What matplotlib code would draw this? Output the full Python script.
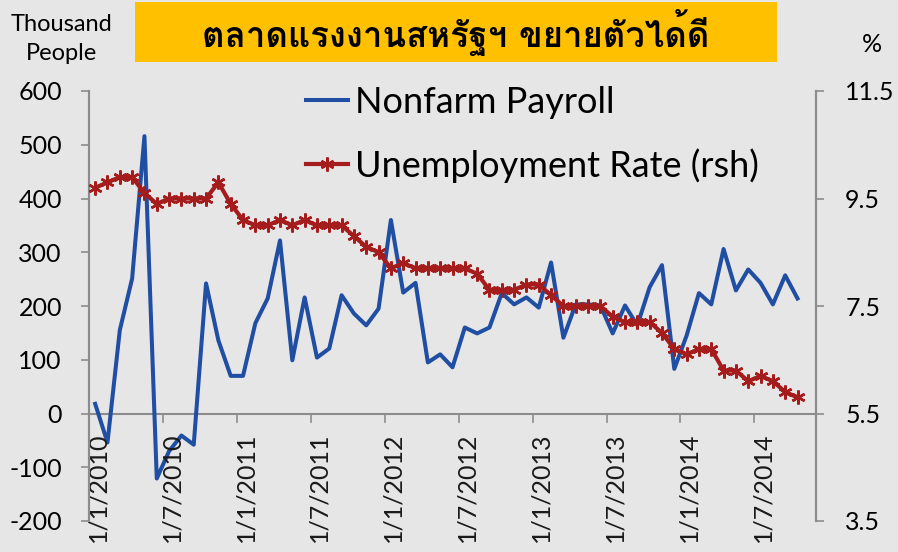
import matplotlib
matplotlib.use("Agg")
import matplotlib.pyplot as plt
from matplotlib import font_manager
from matplotlib.ft2font import FT2Font
from matplotlib.lines import Line2D

# Nonfarm payroll change (thousand people), Jan 2010 - Oct 2014
payroll = [
    18, -54, 155, 251, 516, -121, -70, -41, -58, 242, 136, 70,
    70, 168, 214, 322, 99, 216, 104, 121, 220, 186, 164, 195,
    360, 225, 243, 95, 110, 86, 160, 149, 160, 224, 203, 216,
    197, 281, 141, 203, 203, 201, 149, 201, 164, 235, 276, 83,
    145, 224, 203, 306, 229, 268, 243, 203, 257, 214,
]

# Unemployment rate (%), right axis
unemployment = [
    9.7, 9.8, 9.9, 9.9, 9.6, 9.4, 9.5, 9.5, 9.5, 9.5, 9.8, 9.4,
    9.1, 9.0, 9.0, 9.1, 9.0, 9.1, 9.0, 9.0, 9.0, 8.8, 8.6, 8.5,
    8.2, 8.3, 8.2, 8.2, 8.2, 8.2, 8.2, 8.1, 7.8, 7.8, 7.8, 7.9,
    7.9, 7.7, 7.5, 7.5, 7.5, 7.5, 7.3, 7.2, 7.2, 7.2, 7.0, 6.7,
    6.6, 6.7, 6.7, 6.3, 6.3, 6.1, 6.2, 6.1, 5.9, 5.8,
]

date_labels = [
    "1/1/2010", "1/7/2010", "1/1/2011", "1/7/2011", "1/1/2012",
    "1/7/2012", "1/1/2013", "1/7/2013", "1/1/2014", "1/7/2014",
]

left_ticks = [-200, -100, 0, 100, 200, 300, 400, 500, 600]
right_ticks = [3.5, 5.5, 7.5, 9.5, 11.5]

title_text = "ตลาดแรงงานสหรัฐฯ ขยายตัวได้ดี"

BG = "#e6e6e6"
BLUE = "#1f4ea3"
RED = "#a51c1c"
GREY = "#8c8c8c"


def find_thai_font():
    for entry in font_manager.fontManager.ttflist:
        try:
            font = FT2Font(entry.fname)
            if all(font.get_char_index(ord(ch)) for ch in "ตลาดแรงงาน"):
                return entry.name
        except Exception:
            continue
    return None


thai_font = find_thai_font()
plt.rcParams["font.family"] = ["Lato", "DejaVu Sans"]
plt.rcParams["axes.unicode_minus"] = False

fig = plt.figure(figsize=(8.98, 5.52), dpi=100, facecolor=BG)
ax = fig.add_axes([89 / 898, 1 - 521 / 552, 727 / 898, 430 / 552])
ax.set_facecolor(BG)
ax2 = ax.twinx()

months = list(range(len(payroll)))

ax.plot(months, payroll, color=BLUE, linewidth=2.9, zorder=3)
ax2.plot(
    months,
    unemployment,
    color=RED,
    linewidth=3,
    marker=(6, 2, 0),
    markersize=10,
    markeredgewidth=1.8,
    zorder=3,
)

ax.set_xlim(-0.5, 58.5)
ax.set_ylim(-200, 600)
ax2.set_ylim(3.5, 11.5)

ax.set_yticks(left_ticks)
ax2.set_yticks(right_ticks)
ax2.set_yticklabels([f"{t:.1f}" for t in right_ticks])

for a in (ax, ax2):
    a.spines["top"].set_visible(False)
    a.spines["bottom"].set_visible(False)
    a.spines["left"].set_color(GREY)
    a.spines["right"].set_color(GREY)
    a.spines["left"].set_linewidth(1.5)
    a.spines["right"].set_linewidth(1.5)

ax.tick_params(axis="y", length=6, width=1.2, color=GREY, pad=13.5,
               labelsize=18)
ax2.tick_params(axis="y", length=6, width=1.2, color=GREY, pad=15,
                labelsize=18)

# category axis sits on the zero line
ax.axhline(0, color=GREY, linewidth=1.5, zorder=2)
ax.set_xticks([])
for i in range(len(date_labels)):
    pos = i * 6
    ax.plot([pos - 0.5, pos - 0.5], [0, -15], color=GREY, linewidth=1.2,
            clip_on=False, zorder=2)
    ax.text(pos + 0.2, -36, date_labels[i], rotation=90, ha="center",
            va="top", fontsize=18, color="#1a1a1a")

# title box
fig.patches.append(plt.Rectangle(
    (135 / 898, 1 - 62 / 552), 642 / 898, 60 / 552,
    transform=fig.transFigure, facecolor="#ffc000", edgecolor="none"))
title_family = [thai_font, "DejaVu Sans"] if thai_font else ["DejaVu Sans"]
fig.text(456 / 898, 1 - 33 / 552, title_text, ha="center", va="center",
         fontsize=25, fontweight="bold", family=title_family)

fig.text(62 / 898, 1 - 39 / 552, "Thousand\nPeople", ha="center",
         va="center", fontsize=17, linespacing=1.5)
fig.text(872 / 898, 1 - 45 / 552, "%", ha="center", va="center",
         fontsize=18)

handles = [
    Line2D([], [], color=BLUE, linewidth=2.9),
    Line2D([], [], color=RED, linewidth=3, marker=(6, 2, 0),
           markersize=10, markeredgewidth=1.8),
]
ax2.legend(
    handles,
    ["Nonfarm Payroll", "Unemployment Rate (rsh)"],
    loc="upper left",
    bbox_to_anchor=(306 / 898, 1 - 86 / 552),
    bbox_transform=fig.transFigure,
    frameon=False,
    fontsize=26,
    handlelength=1.15,
    handletextpad=0.2,
    labelspacing=0.8,
    borderpad=0,
    borderaxespad=0,
)

fig.savefig("out.png", dpi=100, facecolor=BG)
